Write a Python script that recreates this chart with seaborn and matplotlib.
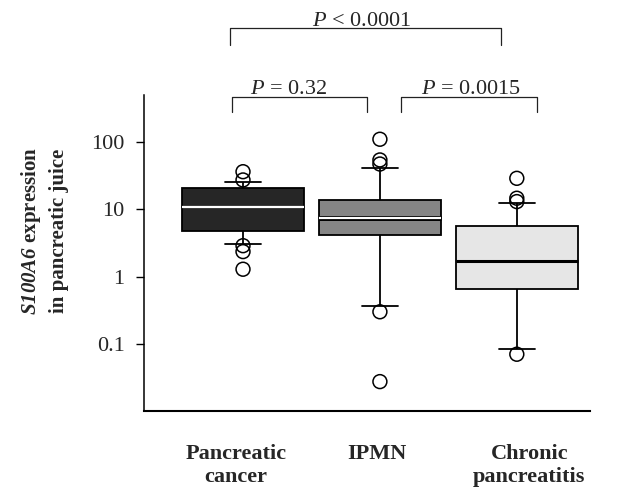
import numpy as np
import pandas as pd
import matplotlib
matplotlib.use("Agg")
import matplotlib.pyplot as plt
import matplotlib.patheffects as pe
from matplotlib.transforms import blended_transform_factory, ScaledTranslation
from matplotlib.ticker import NullLocator
import seaborn as sns

# ---------------- data ----------------
groups = ["Pancreatic cancer", "IPMN", "Chronic pancreatitis"]
tick_labels = ["Pancreatic\ncancer", "IPMN", "Chronic\npancreatitis"]

whisker_low = [3.07, 0.366, 0.083]
q1 = [4.8, 4.18, 0.656]
median = [10.8, 7.55, 1.71]
q3 = [20.7, 13.8, 5.74]
whisker_high = [25.9, 41.9, 12.4]

outliers_pc = [36.5, 27.5, 2.89, 2.36, 1.29]
outliers_ipmn = [111, 54.6, 47.5, 0.30, 0.0274]
outliers_cp = [29.1, 14.7, 13.1, 0.070]

comparisons = [("Pancreatic cancer", "Chronic pancreatitis", "$P$ < 0.0001"),
               ("Pancreatic cancer", "IPMN", "$P$ = 0.32"),
               ("IPMN", "Chronic pancreatitis", "$P$ = 0.0015")]

yticks = [0.1, 1, 10, 100]
ytick_labels = ["0.1", "1", "10", "100"]

# ---------------- style ----------------
sns.set_style("ticks")
plt.rcParams["font.family"] = ["Liberation Serif", "DejaVu Serif"]
plt.rcParams["mathtext.fontset"] = "custom"
plt.rcParams["mathtext.rm"] = "Liberation Serif"
plt.rcParams["mathtext.it"] = "Liberation Serif:italic"
plt.rcParams["mathtext.bf"] = "Liberation Serif:bold"
plt.rcParams["mathtext.bfit"] = "Liberation Serif:italic:bold"

fills = {"Pancreatic cancer": "#262626", "IPMN": "#858585", "Chronic pancreatitis": "#e6e6e6"}

# ---------------- tables ----------------
core = pd.DataFrame({
    "group": np.repeat(groups, 5),
    "value": np.ravel(np.column_stack([whisker_low, q1, median, q3, whisker_high])),
})
out = pd.DataFrame({
    "group": ["Pancreatic cancer"] * len(outliers_pc) + ["IPMN"] * len(outliers_ipmn)
             + ["Chronic pancreatitis"] * len(outliers_cp),
    "value": outliers_pc + outliers_ipmn + outliers_cp,
})

fig = plt.figure(figsize=(6.2, 4.93), dpi=100)
ax = fig.add_axes([0.2323, 0.1663, 0.7194, 0.641])

sns.boxplot(data=core, x="group", y="value", hue="group", order=groups,
            hue_order=groups, palette=fills, legend=False, log_scale=True,
            whis=(0, 100), showfliers=False, width=0.893, linecolor="black",
            linewidth=1.3, capwidths=0.26, dodge=False, ax=ax)

sns.stripplot(data=out, x="group", y="value", order=groups, jitter=False,
              size=10, color="white", linewidth=1.1, edgecolor="black", ax=ax)
for coll in ax.collections:
    coll.set_facecolor("none")
    coll.set_edgecolor("black")
    coll.set_linewidth(1.1)
    coll.set_zorder(5)

# median line styles
for line in ax.lines:
    x = np.asarray(line.get_xdata(), float)
    y = np.asarray(line.get_ydata(), float)
    if len(y) == 2 and y[0] == y[1] and abs(x[1] - x[0]) > 0.5:
        i = int(round(x.mean()))
        if i == 2:
            line.set_color("black")
            line.set_linewidth(2.2)
        else:
            line.set_color("white")
            line.set_linewidth(1.6)
            if i == 1:
                line.set_path_effects([pe.Stroke(linewidth=3.6, foreground="black"), pe.Normal()])

# ---------------- axes ----------------
ax.set_yscale("log")
ax.set_ylim(0.01, 10 ** 2.704)
ax.set_xlim(-0.723, 2.535)
ax.set_yticks(yticks)
ax.set_yticklabels(ytick_labels, fontsize=16)
ax.yaxis.set_minor_locator(NullLocator())
ax.tick_params(axis="y", direction="out", length=6, width=1.0, pad=8, color="black")
ax.set_xticks(range(len(groups)))
ax.set_xticklabels(tick_labels, fontsize=16, fontweight="bold")
ax.tick_params(axis="x", length=0, pad=24)
# small horizontal label offsets (in points) as in the reference
for lbl, dx in zip(ax.get_xticklabels(), [-5, -2, 9]):
    lbl.set_transform(lbl.get_transform() + ScaledTranslation(dx / 72, 0, fig.dpi_scale_trans))
ax.set_xlabel("")
ax.set_ylabel("$\\mathbfit{S100A6}$ expression\nin pancreatic juice",
              fontsize=15, fontweight="bold", linespacing=1.4)
ax.yaxis.set_label_coords(-0.168, 0.57)
sns.despine(ax=ax)
ax.spines["left"].set_linewidth(1.1)
ax.spines["bottom"].set_linewidth(1.5)
ax.spines["left"].set_color("black")
ax.spines["bottom"].set_color("black")

# ---------------- significance brackets ----------------
trans = blended_transform_factory(ax.transData, ax.transAxes)
bracket_layout = [  # (left offset, right offset, y line, y drop, text x offset, text y)
    (-0.095, -0.112, 1.211, 1.158, -0.03, 1.218),
    (-0.082, -0.097, 0.995, 0.946, -0.08, 1.002),
    (0.151, 0.144, 0.995, 0.946, 0.015, 1.002),
]
pos = {g: i for i, g in enumerate(groups)}
for (g1, g2, label), (lo, ro, yl, yd, tx, ty) in zip(comparisons, bracket_layout):
    x1 = pos[g1] + lo
    x2 = pos[g2] + ro
    ax.plot([x1, x1, x2, x2], [yd, yl, yl, yd], color="#222222", lw=0.9,
            transform=trans, clip_on=False)
    ax.text((x1 + x2) / 2 + tx, ty, label, transform=trans, ha="center",
            va="baseline", fontsize=16)

fig.savefig("out.png", dpi=100)
